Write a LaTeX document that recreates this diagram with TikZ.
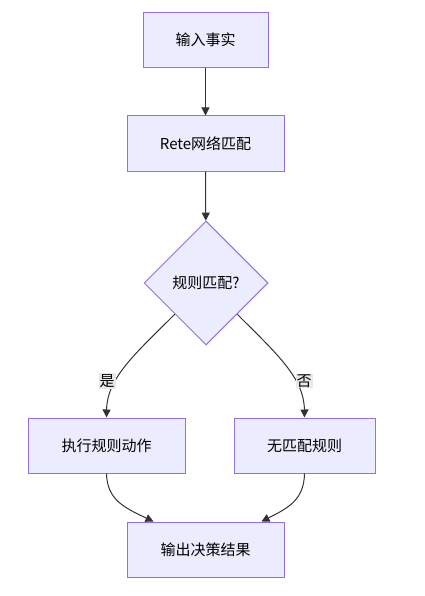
\documentclass[tikz,border=0pt]{standalone}
\usepackage{fontspec}
\usepackage{xcolor}
\usetikzlibrary{positioning,arrows.meta,shapes.geometric,calc}
\setmainfont{Noto Sans CJK SC}
\definecolor{boxfill}{HTML}{ECECFF}
\definecolor{boxline}{HTML}{9370DB}
\definecolor{edgeline}{HTML}{333333}
\definecolor{lblfill}{HTML}{E8E8E8}
\tikzset{
  box/.style={draw=boxline, fill=boxfill, line width=1pt, minimum height=55pt, font=\fontsize{15}{18}\selectfont},
  decision/.style={diamond, draw=boxline, fill=boxfill, line width=1pt, minimum width=124pt, minimum height=124pt, inner sep=0pt, font=\fontsize{15}{18}\selectfont},
  lbl/.style={fill=lblfill, inner sep=1pt, font=\fontsize{15}{18}\selectfont},
  arr/.style={draw=edgeline, line width=1pt, -{Triangle[length=8pt,width=8pt]}}
}

\begin{document}
\begin{tikzpicture}[x=1pt,y=-1pt]
\useasboundingbox (0,0) rectangle (424,596);

\node[box, minimum width=125pt] (in) at (205.5,40) {输入事实};
\node[box, minimum width=157pt] (rete) at (205.5,143.5) {Rete网络匹配};
\node[decision] (dec) at (206,283) {规则匹配?};
\node[box, minimum width=157pt] (act) at (106.5,445.5) {执行规则动作};
\node[box, minimum width=141pt] (none) at (304.5,445.5) {无匹配规则};
\node[box, minimum width=157pt] (res) at (205.5,549.5) {输出决策结果};

\draw[arr] (in) -- (rete);
\draw[arr] (rete) -- (dec);

\draw[arr] (dec.south west) .. controls (135,354) and (107,378) .. (act.north);
\draw[arr] (dec.south east) .. controls (277,354) and (304,378) .. (none.north);
\node[lbl] (yes) at (107,381) {是};
\node[lbl] (no) at (304,381) {否};

\draw[arr] (act.south) .. controls (107,500) and (125,508) .. ([xshift=-52pt]res.north);
\draw[arr] (none.south) .. controls (304,500) and (288,508) .. ([xshift=56pt]res.north);
\end{tikzpicture}
\end{document}
